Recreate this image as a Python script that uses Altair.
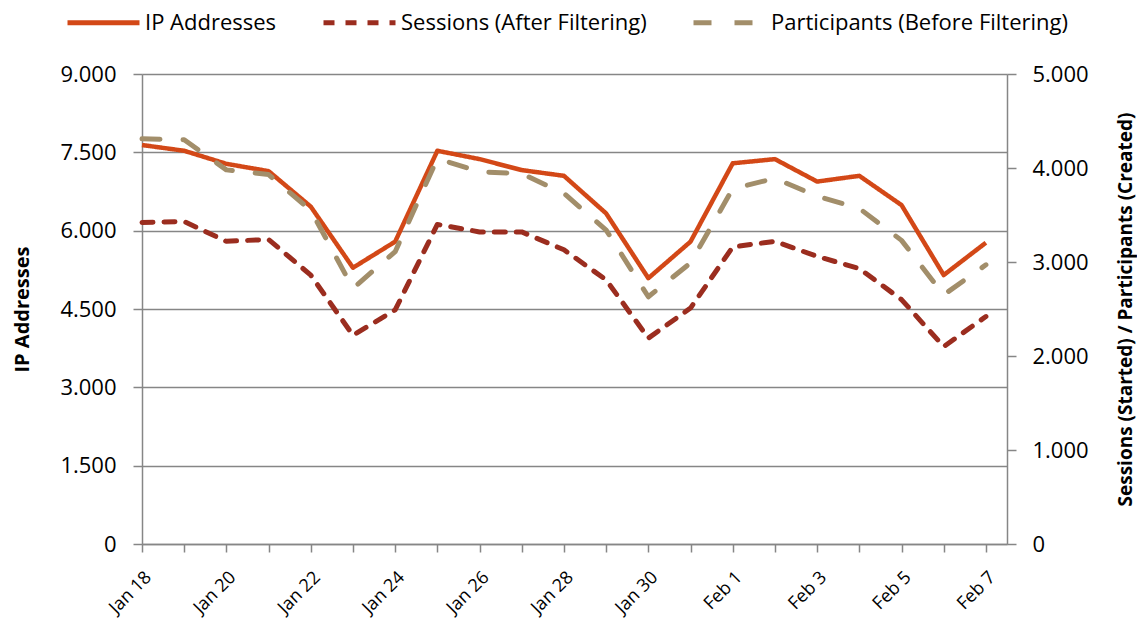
import altair as alt
import pandas as pd

dates = ["Jan 18", "Jan 19", "Jan 20", "Jan 21", "Jan 22", "Jan 23", "Jan 24",
         "Jan 25", "Jan 26", "Jan 27", "Jan 28", "Jan 29", "Jan 30", "Jan 31",
         "Feb 1", "Feb 2", "Feb 3", "Feb 4", "Feb 5", "Feb 6", "Feb 7"]
tick_labels = ["Jan 18", "", "Jan 20", "", "Jan 22", "", "Jan 24", "", "Jan 26", "",
               "Jan 28", "", "Jan 30", "", "Feb 1", "", "Feb 3", "", "Feb 5", "", "Feb 7"]

ip_addresses = [7640, 7530, 7280, 7140, 6460, 5290, 5790, 7530, 7370, 7160, 7050,
                6330, 5090, 5790, 7290, 7370, 6940, 7050, 6490, 5150, 5770]
sessions = [3420, 3430, 3220, 3240, 2860, 2220, 2490, 3400, 3320, 3320, 3130,
            2810, 2190, 2510, 3160, 3220, 3060, 2930, 2600, 2100, 2420]
participants = [4310, 4300, 3980, 3930, 3550, 2720, 3110, 4100, 3960, 3940, 3730,
                3340, 2630, 2990, 3780, 3890, 3700, 3570, 3230, 2650, 2970]

series_names = ["IP Addresses", "Sessions (After Filtering)", "Participants (Before Filtering)"]
series_colors = ["#D34817", "#9B2D1F", "#A28E6A"]
series_dashes = [[1, 0], [11, 11], [18, 23]]

left_ticks = [0, 1500, 3000, 4500, 6000, 7500, 9000]
right_ticks = [0, 1000, 2000, 3000, 4000, 5000]

rows = []
for i, d in enumerate(dates):
    rows.append({"day": i, "date": d, "series": series_names[0], "value": ip_addresses[i]})
    rows.append({"day": i, "date": d, "series": series_names[1], "value": sessions[i]})
    rows.append({"day": i, "date": d, "series": series_names[2], "value": participants[i]})
df = pd.DataFrame(rows)

FONT = "Open Sans"
GRAY = "#868686"
num_expr = "replace(format(datum.value, ','), ',', '.')"
x_label_expr = "[" + ",".join("'" + t + "'" for t in tick_labels) + "][round(datum.value)]"

legend = alt.Legend(
    title=None, orient="none", legendX=-77, legendY=-90, direction="horizontal",
    symbolType="stroke", symbolSize=5184, symbolStrokeWidth=5,
    labelFont=FONT, labelFontSize=22, labelColor="#000", labelOffset=3, labelLimit=500,
    columnPadding=36, padding=0,
)
color_enc = alt.Color("series:N", scale=alt.Scale(domain=series_names, range=series_colors), legend=legend)
dash_enc = alt.StrokeDash("series:N", scale=alt.Scale(domain=series_names, range=series_dashes), legend=legend)

x_scale = alt.Scale(domain=[0, 20.5], nice=False, zero=False)
x_axis = alt.Axis(
    values=list(range(len(dates))), labelExpr=x_label_expr, labelAngle=315,
    grid=False, domainColor=GRAY, domainWidth=1.5, tickColor=GRAY, tickWidth=1.5,
    tickSize=8, labelFont=FONT, labelFontSize=18, labelColor="#000", labelPadding=16,
    title=None, labelOverlap=False, orient="bottom")
x_enc = alt.X("day:Q", scale=x_scale, axis=x_axis)

left = alt.Chart(df).transform_filter(
    alt.datum.series == series_names[0]
).mark_line(strokeWidth=4.5, strokeJoin="round").encode(
    x=x_enc,
    y=alt.Y("value:Q", scale=alt.Scale(domain=[0, 9000], nice=False), axis=alt.Axis(
        values=left_ticks, labelExpr=num_expr, orient="left", grid=True,
        gridColor=GRAY, gridWidth=1.3, domainColor=GRAY, domainWidth=1.5,
        tickColor=GRAY, tickWidth=1.5, tickSize=9, labelFont=FONT, labelFontSize=22,
        labelColor="#000", labelPadding=17, title="IP Addresses", titleFont=FONT,
        titleFontSize=20, titleFontWeight="bold", titleColor="#000", titleAngle=270,
        titleX=-120, titleBaseline="middle")),
    color=color_enc,
    strokeDash=dash_enc,
    detail="series:N",
)

right = alt.Chart(df).transform_filter(
    alt.datum.series != series_names[0]
).mark_line(strokeWidth=5, strokeJoin="round", strokeCap="round").encode(
    x=x_enc,
    y=alt.Y("value:Q", scale=alt.Scale(domain=[0, 5000], nice=False), axis=alt.Axis(
        values=right_ticks, labelExpr=num_expr, orient="right", grid=False,
        domainColor=GRAY, domainWidth=1.5, tickColor=GRAY, tickWidth=1.5, tickSize=9,
        labelFont=FONT, labelFontSize=22, labelColor="#000", labelPadding=16,
        title="Sessions (Started) / Participants (Created)", titleFont=FONT,
        titleFontSize=19, titleFontWeight="bold", titleColor="#000", titleAngle=270,
        titleX=118, titleBaseline="middle")),
    color=color_enc,
    strokeDash=dash_enc,
    detail="series:N",
)

chart = alt.layer(left, right).resolve_scale(y="independent").properties(
    width=865, height=470,
    autosize=alt.AutoSizeParams(type="none"),
    padding={"left": 134, "top": 66, "right": 130, "bottom": 78},
).configure_view(stroke=None).configure(background="white")

chart.save("out.html", embed_options={"renderer": "svg", "actions": False})
